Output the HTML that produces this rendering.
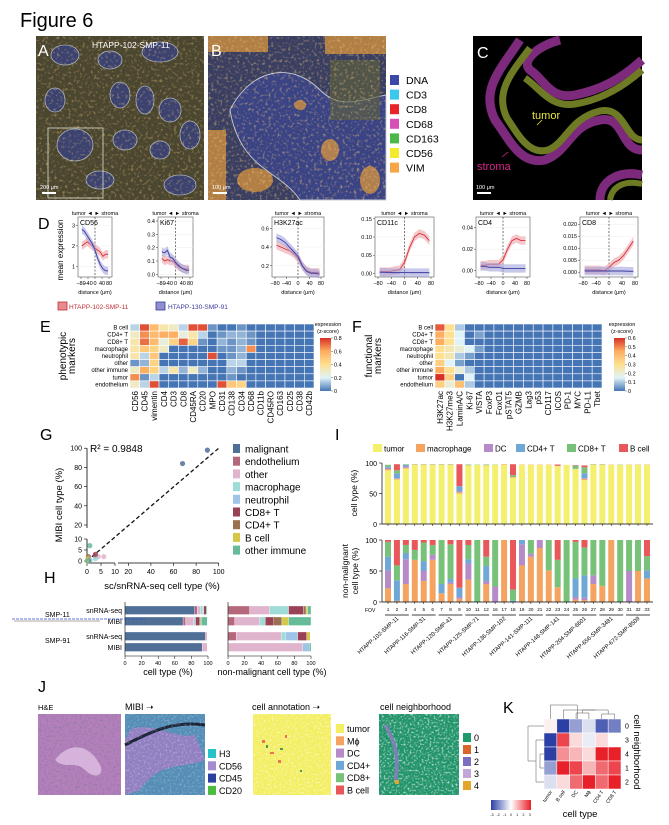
<!DOCTYPE html>
<html><head><meta charset="utf-8">
<style>
html,body{margin:0;padding:0;background:#fff;}
svg{display:block;font-family:"Liberation Sans",Arial,sans-serif;}
</style></head>
<body>
<svg id="fig" width="669" height="825" viewBox="0 0 669 825" xmlns="http://www.w3.org/2000/svg">
<defs>
<filter id="noiseA" x="0" y="0" width="100%" height="100%"><feTurbulence type="fractalNoise" baseFrequency="0.35" numOctaves="2" seed="3"/><feColorMatrix values="0 0 0 0 0.95  0 0 0 0 0.6  0 0 0 0 0.2  0 0 0 3 -1.6"/></filter>
<filter id="noiseW" x="0" y="0" width="100%" height="100%"><feTurbulence type="fractalNoise" baseFrequency="0.5" numOctaves="2" seed="7"/><feColorMatrix values="0 0 0 0 1  0 0 0 0 1  0 0 0 0 1  0 0 0 3 -1.5"/></filter>
<filter id="noiseD" x="0" y="0" width="100%" height="100%"><feTurbulence type="fractalNoise" baseFrequency="0.45" numOctaves="2" seed="11"/><feColorMatrix values="0 0 0 0 0.3  0 0 0 0 0.2  0 0 0 0 0.4  0 0 0 3 -1.4"/></filter>
<linearGradient id="cbE" x1="0" y1="1" x2="0" y2="0"><stop offset="0" stop-color="#4575b4"/><stop offset="0.25" stop-color="#e0f3f8"/><stop offset="0.5" stop-color="#fee090"/><stop offset="0.75" stop-color="#fdae61"/><stop offset="1" stop-color="#d73027"/></linearGradient>
<linearGradient id="cbK" x1="0" y1="0" x2="1" y2="0"><stop offset="0" stop-color="#2b3fa5"/><stop offset="0.5" stop-color="#ffffff"/><stop offset="1" stop-color="#e8202a"/></linearGradient>
</defs>

<text x="20" y="27" font-size="20">Figure 6</text>

<!-- Panel A -->
<g>
<rect x="36" y="36" width="168" height="164" fill="#4a4630"/>
<g fill="#3b4270" stroke="#aab2bc" stroke-width="0.8">
<ellipse cx="65" cy="55" rx="14" ry="10"/><ellipse cx="110" cy="60" rx="12" ry="9"/><ellipse cx="160" cy="52" rx="18" ry="10"/>
<ellipse cx="120" cy="95" rx="10" ry="13"/><ellipse cx="145" cy="100" rx="9" ry="14"/><ellipse cx="170" cy="110" rx="11" ry="12"/>
<ellipse cx="75" cy="145" rx="18" ry="16"/><ellipse cx="190" cy="135" rx="10" ry="14"/><ellipse cx="160" cy="150" rx="10" ry="9"/>
<ellipse cx="125" cy="140" rx="12" ry="10"/><ellipse cx="100" cy="180" rx="14" ry="9"/><ellipse cx="180" cy="185" rx="16" ry="10"/><ellipse cx="55" cy="100" rx="10" ry="12"/>
</g>
<rect x="36" y="36" width="168" height="164" filter="url(#noiseA)" opacity="0.45"/>
<rect x="48" y="128" width="55" height="70" fill="none" stroke="#e0e0d0" stroke-width="0.8"/>
<text x="38" y="56" font-size="16" fill="#fff">A</text>
<text x="92" y="48" font-size="8.5" fill="#fff">HTAPP-102-SMP-11</text>
<rect x="42" y="192" width="14" height="2" fill="#fff"/><text x="40" y="189" font-size="5.5" fill="#fff">200 μm</text>
</g>

<!-- Panel B -->
<g>
<rect x="208" y="36" width="178" height="164" fill="#3a3f62"/>
<path d="M230 110 C250 70 290 60 320 90 C340 110 360 100 386 95 L386 200 L300 200 C280 170 240 170 230 110Z" fill="#3a4384" stroke="#c6ccd6" stroke-width="0.9"/>
<g fill="#d9953c" opacity="0.75"><rect x="208" y="36" width="60" height="16"/><rect x="208" y="130" width="18" height="70"/><rect x="325" y="36" width="61" height="18"/><ellipse cx="255" cy="180" rx="18" ry="12"/><ellipse cx="330" cy="150" rx="9" ry="11"/><ellipse cx="300" cy="105" rx="6" ry="5"/><ellipse cx="370" cy="180" rx="10" ry="14"/></g>
<rect x="330" y="60" width="50" height="60" fill="#5f6238" opacity="0.6"/>
<rect x="208" y="36" width="178" height="164" filter="url(#noiseA)" opacity="0.55"/>
<text x="211" y="56" font-size="16" fill="#fff">B</text>
<rect x="213" y="192" width="14" height="2" fill="#fff"/><text x="212" y="189" font-size="5.5" fill="#fff">100 μm</text>
</g>
<g id="legB"></g>

<!-- Panel C -->
<g>
<rect x="473" y="36" width="169" height="164" fill="#000"/>
<path d="M520 40 C500 70 480 90 495 120 C510 140 520 165 545 160 C570 150 570 125 600 120 C625 115 620 150 642 150 M642 60 C620 80 600 90 575 95 C550 100 545 80 530 70 C520 60 540 45 560 40" fill="none" stroke="#7d2a7c" stroke-width="9"/>
<path d="M530 48 C512 72 494 92 507 118 C520 138 530 155 548 150 C566 143 570 118 600 111 C625 106 625 140 642 140 M642 70 C622 88 600 100 575 104 C550 108 540 88 525 78" fill="none" stroke="#6f7a24" stroke-width="7"/>
<path d="M600 200 C600 180 620 170 642 175" fill="none" stroke="#7d2a7c" stroke-width="9"/>
<path d="M610 200 C612 186 625 180 642 184" fill="none" stroke="#6f7a24" stroke-width="6"/>
<text x="477" y="58" font-size="16" fill="#fff">C</text>
<text x="532" y="119" font-size="11" fill="#e8e63a">tumor</text>
<text x="477" y="170" font-size="11" fill="#d8288a">stroma</text>
<line x1="537" y1="125" x2="542" y2="120" stroke="#e8e63a" stroke-width="0.8"/>
<line x1="508" y1="152" x2="502" y2="157" stroke="#d8288a" stroke-width="0.8"/>
<rect x="477" y="192" width="14" height="2" fill="#fff"/><text x="476" y="189" font-size="5.5" fill="#fff">100 μm</text>
</g>

<text x="38" y="229" font-size="16">D</text>
<text transform="translate(63,250) rotate(-90)" text-anchor="middle" font-size="8">mean expression</text>
<g id="plotsD"></g>
<g>
<rect x="58" y="302" width="9" height="8" fill="#e78b8f" stroke="#c0303a" stroke-width="0.8"/>
<text x="69" y="309" font-size="6.5" fill="#c0303a">HTAPP-102-SMP-11</text>
<rect x="156" y="302" width="9" height="8" fill="#8f8fd0" stroke="#3a3a9a" stroke-width="0.8"/>
<text x="168" y="309" font-size="6.5" fill="#3a3a9a">HTAPP-130-SMP-91</text>
</g>

<text x="40" y="332" font-size="16">E</text>
<text x="352" y="332" font-size="16">F</text>
<g id="heatE"></g>
<g id="heatF"></g>

<text x="40" y="440" font-size="16">G</text>
<g id="scatG"></g>
<text x="44" y="583" font-size="16">H</text>
<g id="barsH"></g>
<text x="335" y="440" font-size="16">I</text>
<g id="barsI"></g>

<text x="38" y="692" font-size="16">J</text>
<g>
<text x="38" y="710" font-size="7.5">H&amp;E</text>
<rect x="38" y="714" width="83" height="81" fill="#b57fbc"/>
<rect x="38" y="714" width="83" height="81" filter="url(#noiseD)"/>
<path d="M55 760 C70 740 90 745 100 765 C105 775 95 780 85 770 C75 760 65 770 55 760Z" fill="#e0c0e4" opacity="0.8"/>
<text x="125" y="710" font-size="9">MIBI ➝</text>
<rect x="125" y="714" width="80" height="81" fill="#6a78b2"/>
<rect x="125" y="714" width="80" height="81" fill="#2bb5bd" opacity="0.35"/>
<path d="M130 730 C150 720 175 740 195 735 L205 760 C180 770 160 760 140 790 L125 795 L125 740Z" fill="#a07cc4" opacity="0.8"/>
<path d="M125 745 C145 735 170 720 205 725" fill="none" stroke="#1a2238" stroke-width="3"/>
<rect x="125" y="714" width="80" height="81" filter="url(#noiseW)" opacity="0.3"/>
<text x="252" y="710" font-size="9">cell annotation ➝</text>
<rect x="253" y="714" width="78" height="81" fill="#f3ee62"/>
<rect x="253" y="714" width="78" height="81" filter="url(#noiseW)" opacity="0.6"/>
<g fill="#e8745a"><rect x="262" y="740" width="3" height="3"/><rect x="270" y="752" width="4" height="2"/><rect x="285" y="735" width="2" height="3"/><rect x="278" y="760" width="3" height="3"/></g>
<g fill="#4d9a58"><rect x="266" y="745" width="2" height="3"/><rect x="280" y="748" width="3" height="2"/><rect x="300" y="770" width="2" height="2"/></g>
<text x="380" y="710" font-size="9">cell neighborhood</text>
<rect x="379" y="714" width="80" height="81" fill="#22946a"/>
<rect x="379" y="714" width="80" height="81" filter="url(#noiseW)" opacity="0.75"/>
<path d="M385 725 C395 740 400 760 395 780" fill="none" stroke="#8d7cc0" stroke-width="4" opacity="0.8"/>
<rect x="395" y="780" width="4" height="4" fill="#e2a72a"/>
</g>
<g id="legJ"></g>

<text x="503" y="713" font-size="16">K</text>
<g id="heatK"></g>
</svg>

<script>
var NS='http://www.w3.org/2000/svg';
function mk(tag,attrs,parent,txt){var e=document.createElementNS(NS,tag);for(var k in attrs)e.setAttribute(k,attrs[k]);if(txt!==undefined)e.textContent=txt;(parent||document.getElementById('fig')).appendChild(e);return e;}

/* ---------- data ---------- */
var chanNames=['DNA','CD3','CD8','CD68','CD163','CD56','VIM'];
var chanColors=['#3a48a8','#3cc8ec','#e8232a','#d651b3','#4cb848','#f2ea2a','#f5a745'];

var dDist=[-75,-60,-45,-30,-15,0,15,30,45,60,75];
var dTitles=['CD56','Ki67','H3K27ac','CD11c','CD4','CD8'];
var dRedCD56=[2.0,2.1,2.2,2.1,2.0,1.9,1.8,1.7,1.5,1.6,1.6];
var dBlueCD56=[2.8,2.7,2.5,2.3,2.1,1.8,1.4,1.1,0.9,0.8,0.8];
var dRedKi67=[0.12,0.10,0.11,0.10,0.10,0.08,0.06,0.05,0.04,0.04,0.04];
var dBlueKi67=[0.17,0.16,0.18,0.13,0.12,0.09,0.07,0.05,0.04,0.03,0.03];
var dRedH3=[0.42,0.40,0.38,0.36,0.33,0.28,0.20,0.15,0.13,0.13,0.13];
var dBlueH3=[0.50,0.48,0.45,0.40,0.35,0.30,0.20,0.14,0.12,0.12,0.11];
var dRedCD11c=[0.005,0.005,0.005,0.008,0.01,0.03,0.07,0.10,0.11,0.105,0.09];
var dBlueCD11c=[0.003,0.003,0.002,0.002,0.002,0.003,0.002,0.002,0.002,0.002,0.002];
var dRedCD4=[0.005,0.005,0.006,0.006,0.006,0.01,0.02,0.028,0.03,0.028,0.028];
var dBlueCD4=[0.004,0.004,0.003,0.003,0.003,0.002,0.002,0.002,0.002,0.002,0.002];
var dRedCD8=[0.001,0.001,0.001,0.001,0.0005,0.002,0.004,0.005,0.007,0.010,0.013];
var dBlueCD8=[0.0005,0.0005,0.0005,0.0005,0.0005,0.0005,0.0005,0.0005,0.0005,0.0004,0.0004];
var dTicksCD56=[1,2,3], dTickLabCD56=['1','2','3'];
var dTicksKi67=[0,0.1,0.2,0.3,0.4], dTickLabKi67=['0.0','0.1','0.2','0.3','0.4'];
var dTicksH3=[0.2,0.4,0.6], dTickLabH3=['0.2','0.4','0.6'];
var dTicksCD11c=[0,0.05,0.10,0.15], dTickLabCD11c=['0.00','0.05','0.10','0.15'];
var dTicksCD4=[0,0.02,0.04], dTickLabCD4=['0.00','0.02','0.04'];
var dTicksCD8=[0,0.005,0.01,0.015,0.02], dTickLabCD8=['0.000','0.005','0.010','0.015','0.020'];
var xTicksD=[-80,-40,0,40,80], xTickLabD=['−80','−40','0','40','80'];

var eRows=['B cell','CD4+ T','CD8+ T','macrophage','neutrophil','other','other immune','tumor','endothelium'];
var eCols=['CD56','CD45','vimentin','CD4','CD3','CD8','CD45RA','CD20','MPO','CD31','CD138','CD34','CD68','CD11b','CD45RO','CD163','CD25','CD38','CD42b'];
var eVals=[
[.15,.75,.55,.35,.3,.15,.75,.75,.05,0,0,.05,0,0,0,0,0,0,0],
[.3,.65,.55,.6,.6,.25,.35,.15,0,.05,.1,.1,.05,0,0,0,0,0,0],
[.35,.7,.55,.25,.45,.72,.45,.05,0,.1,.05,.1,.05,0,0,0,0,0,0],
[.35,.5,.45,.3,0,0,0,0,0,.05,.05,.1,.65,0,0,0,0,0,0],
[.35,.15,.5,0,0,0,0,0,.75,0,.05,.1,0,0,0,0,0,0,0],
[.05,.1,.45,0,0,0,0,0,0,0,.15,.15,0,0,0,0,0,0,0],
[.3,.6,.45,.15,.35,.1,.3,.1,0,0,.1,.05,0,0,0,0,0,0,0],
[.65,.05,.15,0,0,0,0,0,0,0,.05,0,0,0,0,0,0,0,0],
[.3,.15,.75,0,0,0,0,0,0,.75,.5,.45,0,0,0,0,0,0,0]];
var eTicks=['0','0.2','0.4','0.6','0.8'];
var fCols=['H3K27ac','H3K27me3','LaminA/C','Ki-67','VISTA','FoxP3','FoxO1','pSTAT5','GZMB','Lag3','p53','CD117','ICOS','PD-1','MYC','PD-L1','Tbet'];
var fVals=[
[.55,.3,.1,0,0,0,0,0,0,0,0,0,0,0,0,0,0],
[.45,.3,.15,0,.05,0,0,0,0,0,0,0,0,0,0,0,0],
[.45,.3,.15,0,0,0,0,0,0,0,0,0,0,0,0,0,0],
[.3,.25,.2,.15,.05,0,0,0,0,0,0,0,0,0,0,0,0],
[.3,.25,.1,.05,0,0,0,0,0,0,0,0,0,0,0,0,0],
[.35,.15,.05,0,0,0,0,0,0,0,0,0,0,0,0,0,0],
[.45,.3,.2,.1,0,0,0,0,0,0,0,0,0,0,0,0,0],
[.6,.35,0,.15,0,0,0,0,0,0,0,0,0,0,0,0,0],
[.35,.2,.4,.1,0,0,0,0,0,0,0,0,0,0,0,0,0]];
var fTicks=['0','0.1','0.2','0.3','0.4','0.5','0.6'];

var gTypes=['malignant','endothelium','other','macrophage','neutrophil','CD8+ T','CD4+ T','B cell','other immune'];
var gColors=['#4f6f96','#b5677b','#e0b4cc','#9fdcd8','#9ec5e8','#9a4255','#9a7050','#d4c84a','#66bb98'];
var gSc11=[68,3,4,3,1,3,0.5,0.3,1];
var gMibi11=[84,2,2,1,0.5,3,2,1,7];
var gSc91=[90,0.5,6,1,1,0.5,0.2,0.1,0.2];
var gMibi91=[98,0.3,2,0.2,0.3,0.1,0.1,0.1,0.1];
var gYTicks=[0,5,10,20,40,60,80,100];
var gXTicks=[0,5,10,20,40,60,80,100];

var hRowLabels=['snRNA-seq','MIBI','snRNA-seq','MIBI'];
var hAll=[[84,3,4,3,1,3,0,0,1],[70,3,10,2,0,5,1,1,7],[97,0,2,0,0,0,0,0,0],[93,0,6,0,0,0,0,0,0]];
var hNonMal=[[26,24,23,0,18,3,2,4],[8,30,7,0,10,10,8,27],[10,54,5,15,11,0,4,0],[1,89,0,8,0,0,0,2]];
var hTicks=[0,20,40,60,80,100];

var iCats=['tumor','macrophage','DC','CD4+ T','CD8+ T','B cell'];
var iColors=['#f5ef6e','#f4a460','#b68cc8','#6fa8d6','#77c278','#e8585a'];
var iFov=['1','2','3','4','5','6','7','8','9','10','11','12','16','17','18','19','20','21','22','23','24','25','26','27','28','29','30','31','32','33'];
var iTumor=[88,73,91,97,97,97,97,97,50,96,97,96,97,97,76,97,97,97,97,95,97,90,72,97,97,97,97,97,97,97];
var iMac=[2,1,1,0.5,0.5,0.5,0.5,0.5,2,0.5,0,0.5,0,1,1,0.5,0.5,0.5,0.5,0.5,0,0.5,2,0.5,0.5,0.5,0,0.5,0.5,0.5];
var iDC=[2,1,3,0,0,0,0,0,2,0,0,0,0,0,0,0,0,0,0,0,0,0,1,0,0,0,0,0,0,0];
var iCD4=[2,8,2,0,0,0,0,0,8,0,0,0,0,0,0,0,0,0,0,0,0,0,8,0,0,0,0,0,0,0];
var iCD8=[3,5,1,0.5,0.5,0.5,0.5,0.5,0,1,0.5,1,0.5,0,3,0,0,0,0,0,0,5,10,0.5,0.5,0,0.5,0,0,0];
var iB=[0,10,0,0,0,0,0,0,36,0,0,0,0,0,18,0,0,0,0,2,0,1,3,0,0,0,0,0,0,0];
var nMac=[22,2,29,68,34,68,14,29,5,36,0,29,0,100,0,59,73,87,51,24,0,4,3,29,26,100,0,0,50,38];
var nDC=[29,0,40,0,16,8,0,3,3,26,0,5,25,0,0,34,5,13,0,0,0,4,4,14,0,0,0,50,0,0];
var nCD4=[22,33,10,0,16,0,15,5,15,7,0,24,0,0,2,7,0,0,0,0,0,30,36,0,0,0,0,0,0,13];
var nCD8=[24,24,13,16,30,16,71,56,0,23,100,15,75,0,18,0,22,0,49,44,100,59,45,57,74,0,100,50,50,23];
var nB=[3,41,8,16,4,8,0,7,77,8,0,27,0,0,80,0,0,0,0,32,0,3,12,0,0,0,0,0,0,26];
var iGroups=['HTAPP-102-SMP-11','HTAPP-116-SMP-31','HTAPP-120-SMP-41','HTAPP-125-SMP-71','HTAPP-136-SMP-102','HTAPP-141-SMP-111','HTAPP-148-SMP-141','HTAPP-204-SMP-6601','HTAPP-656-SMP-3481','HTAPP-672-SMP-8509'];

var jChan=['H3','CD56','CD45','CD20'], jChanCol=['#27c2c8','#a58bd0','#2b3fa0','#4cba3c'];
var jAnn=['tumor','Mϕ','DC','CD4+','CD8+','B cell'], jAnnCol=['#f3ee62','#f4a460','#b68cc8','#6fa8d6','#77c278','#e8585a'];
var jNb=['0','1','2','3','4'], jNbCol=['#1f9a6c','#d9652a','#7a70bf','#c2a6d8','#e2a72a'];

var kRows=['0','3','4','1','2'];
var kCols=['tumor','B cell','DC','Mϕ','CD4 T','CD8 T'];
var kVals=[[0.2,-3,-1.5,-0.5,-2.5,-2],[-3,2.5,0.5,-0.3,0.5,0],[-3,1.5,1,0.5,3,3],[-1.5,3,2.5,1,2,2.5],[-0.5,0.5,2,3,2,3]];
var kTicks=['-3','-2','-1','0','1','2','3'];

/* ---------- helpers ---------- */
function hex(c){return [parseInt(c.substr(1,2),16),parseInt(c.substr(3,2),16),parseInt(c.substr(5,2),16)];}
function interp(stops,t){t=Math.max(0,Math.min(1,t));var n=stops.length-1,i=Math.min(n-1,Math.floor(t*n)),f=t*n-i;var a=hex(stops[i]),b=hex(stops[i+1]);return 'rgb('+a.map(function(v,k){return Math.round(v+(b[k]-v)*f);}).join(',')+')';}
var eStops=['#4575b4','#e0f3f8','#fee090','#fdae61','#d73027'];
var kStops=['#2b3fa5','#ffffff','#e8202a'];

/* ---------- B legend ---------- */
var gB=document.getElementById('legB');
chanNames.forEach(function(n,i){
 var y=75+i*14.6;
 var r=mk('rect',{x:390,y:y,width:9,height:10,fill:chanColors[i]},gB);
 
 
 var t=mk('text',{x:406,y:y+9,'font-size':10.5},gB,n);
 
 
});

/* ---------- D plots ---------- */
var gD=document.getElementById('plotsD');
var dSpecs=[
 {x0:78,x1:112,ymin:0.5,ymax:3.4,ticks:dTicksCD56,lab:dTickLabCD56,r:dRedCD56,b:dBlueCD56},
 {x0:158,x1:193,ymin:-0.02,ymax:0.43,ticks:dTicksKi67,lab:dTickLabKi67,r:dRedKi67,b:dBlueKi67},
 {x0:272,x1:324,ymin:0.08,ymax:0.72,ticks:dTicksH3,lab:dTickLabH3,r:dRedH3,b:dBlueH3},
 {x0:375,x1:434,ymin:-0.01,ymax:0.155,ticks:dTicksCD11c,lab:dTickLabCD11c,r:dRedCD11c,b:dBlueCD11c},
 {x0:476,x1:530,ymin:-0.006,ymax:0.05,ticks:dTicksCD4,lab:dTickLabCD4,r:dRedCD4,b:dBlueCD4},
 {x0:580,x1:638,ymin:-0.002,ymax:0.023,ticks:dTicksCD8,lab:dTickLabCD8,r:dRedCD8,b:dBlueCD8}];
var Y0=217,Y1=277;
dSpecs.forEach(function(s,pi){
 var g=mk('g',{},gD);
 
 
 var xs=function(v){return s.x0+3+(v+80)/160*(s.x1-s.x0-6);};
 var ys=function(v){return Y1-(v-s.ymin)/(s.ymax-s.ymin)*(Y1-Y0);};
 var bg=mk('rect',{x:s.x0,y:Y0,width:s.x1-s.x0,height:Y1-Y0,fill:'#fff',stroke:'#555','stroke-width':0.6},g);
 
 
 s.ticks.forEach(function(t,i){
  mk('line',{x1:s.x0,x2:s.x1,y1:ys(t),y2:ys(t),stroke:'#eee','stroke-width':0.5},g);
  mk('line',{x1:s.x0-2,x2:s.x0,y1:ys(t),y2:ys(t),stroke:'#333','stroke-width':0.5},g);
  var tl=mk('text',{x:s.x0-3,y:ys(t)+2,'font-size':5.5,'text-anchor':'end'},g,s.lab[i]);
  
  
 });
 xTicksD.forEach(function(t,i){
  mk('line',{x1:xs(t),x2:xs(t),y1:Y1,y2:Y1+2,stroke:'#333','stroke-width':0.5},g);
  var xl=mk('text',{x:xs(t),y:Y1+8,'font-size':5.5,'text-anchor':'middle'},g,xTickLabD[i]);
  
  
 });
 mk('line',{x1:xs(0),x2:xs(0),y1:Y0,y2:Y1,stroke:'#222','stroke-width':0.6,'stroke-dasharray':'2,1.5'},g);
 var band=(s.ymax-s.ymin)*0.07;
 [[s.r,'#d8303c','#eda3a8'],[s.b,'#3a3aa0','#a3a3dc']].forEach(function(ser,si){
  var up=ser[0].map(function(v,i){return xs(dDist[i])+','+ys(v+band);});
  var dn=ser[0].map(function(v,i){return xs(dDist[i])+','+ys(v-band);}).reverse();
  var p=mk('polygon',{points:up.concat(dn).join(' '),fill:ser[2],opacity:0.6},g);
  
  
  var l=mk('polyline',{points:ser[0].map(function(v,i){return xs(dDist[i])+','+ys(v);}).join(' '),fill:'none',stroke:ser[1],'stroke-width':0.9},g);
  
  
 });
 var tt=mk('text',{x:s.x0+2,y:Y0+8,'font-size':7},g,dTitles[pi]);
 
 
 var cx=xs(0);
 var hd=mk('text',{x:cx,y:Y0-2,'font-size':5.5,'text-anchor':'middle'},g,'tumor ◄ ► stroma');
 
 
 var xt=mk('text',{x:(s.x0+s.x1)/2,y:Y1+17,'font-size':5.5,'text-anchor':'middle'},g,'distance (μm)');
 
 
});

/* ---------- heatmaps E/F ---------- */
function heat(gid,vals,cols,x0,x1,y0,y1,vmax,labX,cbx,ticks,sideTitle,sideX){
 var g=document.getElementById(gid);
 var cw=(x1-x0)/cols.length,rh=(y1-y0)/eRows.length;
 vals.forEach(function(row,r){row.forEach(function(v,c){
  var cell=mk('rect',{x:x0+c*cw,y:y0+r*rh,width:cw,height:rh,fill:interp(eStops,v/vmax),stroke:'#fff','stroke-width':0.6},g);
  
  
 });});
 eRows.forEach(function(n,r){
  var t=mk('text',{x:labX,y:y0+r*rh+rh/2+2,'font-size':6,'text-anchor':'end'},g,n);
  
  
 });
 cols.forEach(function(n,c){
  var xx=x0+c*cw+cw/2+3;
  var t=mk('text',{transform:'translate('+xx+','+(y1+3)+') rotate(-90)','font-size':8,'text-anchor':'end'},g,n);
  
  
 });
 var cb=mk('rect',{x:cbx,y:338,width:11,height:53,fill:'url(#cbE)'},g);
 
 
 ticks.forEach(function(t,i){
  var yy=391-i*53/(ticks.length-1);
  mk('line',{x1:cbx+11,x2:cbx+13,y1:yy,y2:yy,stroke:'#333','stroke-width':0.4},g);
  var tl=mk('text',{x:cbx+14,y:yy+2,'font-size':5.5},g,t);
  
  
 });
 var ct=mk('text',{x:cbx+8,y:326,'font-size':5.5,'text-anchor':'middle'},g,'expression');
 
 
 mk('text',{x:cbx+8,y:333,'font-size':5.5,'text-anchor':'middle'},g,'(z-score)');
 var st=mk('text',{transform:'translate('+sideX+',356) rotate(-90)','font-size':10,'text-anchor':'middle'},g,sideTitle.split('|')[0]);
 
 
 mk('text',{transform:'translate('+(sideX+9)+',356) rotate(-90)','font-size':10,'text-anchor':'middle'},g,sideTitle.split('|')[1]);
}
heat('heatE',eVals,eCols,130,314,324,388,0.8,128,320,eTicks,'phenotypic|markers',66);
heat('heatF',fVals,fCols,435,602,324,388,0.6,433,614,fTicks,'functional|markers',372);

/* ---------- G scatter ---------- */
var gG=document.getElementById('scatG');
function gx(v){return v<=10?87+2.8*v:117+(v-10)*1.13;}
function gy(v){return v<=10?561-2.2*v:525-(v-20)*0.96;}
mk('line',{x1:87,x2:87,y1:gy(100),y2:gy(20)+3,stroke:'#000','stroke-width':0.8},gG);
mk('line',{x1:87,x2:87,y1:gy(10),y2:561,stroke:'#000','stroke-width':0.8},gG);
mk('line',{x1:87,x2:gx(10),y1:563,y2:563,stroke:'#000','stroke-width':0.8},gG);
mk('line',{x1:gx(10)+3,x2:gx(100),y1:563,y2:563,stroke:'#000','stroke-width':0.8},gG);
gYTicks.forEach(function(t){
 mk('line',{x1:84,x2:87,y1:gy(t),y2:gy(t),stroke:'#000','stroke-width':0.6},gG);
 var l=mk('text',{x:82,y:gy(t)+2.5,'font-size':7,'text-anchor':'end'},gG,String(t));
 
 
});
gXTicks.forEach(function(t){
 mk('line',{x1:gx(t),x2:gx(t),y1:563,y2:566,stroke:'#000','stroke-width':0.6},gG);
 var l=mk('text',{x:gx(t),y:574,'font-size':7,'text-anchor':'middle'},gG,String(t));
 
 
});
var dl=mk('line',{x1:gx(0),y1:gy(0),x2:gx(100),y2:gy(100),stroke:'#111','stroke-width':1.3,'stroke-dasharray':'4,2.5'},gG);


[[gSc11,gMibi11],[gSc91,gMibi91]].forEach(function(pair){
 pair[0].forEach(function(v,i){
  var c=mk('circle',{cx:gx(v),cy:gy(pair[1][i]),r:2.6,fill:gColors[i],opacity:0.85},gG);
  
  
 });
});
var r2=mk('text',{x:90,y:452,'font-size':10},gG,'R² = 0.9848');


var ya=mk('text',{transform:'translate(62,505) rotate(-90)','font-size':9.5,'text-anchor':'middle'},gG,'MIBI cell type (%)');


var xa=mk('text',{x:162,y:589,'font-size':9.5,'text-anchor':'middle'},gG,'sc/snRNA-seq cell type (%)');


gTypes.forEach(function(n,i){
 var y=444+i*12.7;
 var s=mk('rect',{x:233,y:y,width:7,height:9,fill:gColors[i]},gG);
 
 
 var t=mk('text',{x:245,y:y+8.5,'font-size':10},gG,n);
 
 
});

/* ---------- H bars ---------- */
var gH=document.getElementById('barsH');
var hY=[606,617,632,643];
function hbar(vals,cols,x0,x1){
 vals.forEach(function(row,r){var acc=0;row.forEach(function(v,c){
  var b=mk('rect',{x:x0+acc/100*(x1-x0),y:hY[r],width:v/100*(x1-x0),height:8.5,fill:cols[c],stroke:'#fff','stroke-width':0.3},gH);
  
  
  acc+=v;});});
 mk('line',{x1:x0,x2:x1,y1:656,y2:656,stroke:'#000','stroke-width':0.6},gH);
 mk('line',{x1:x0,x2:x0,y1:602,y2:656,stroke:'#000','stroke-width':0.6},gH);
 hTicks.forEach(function(t){
  var xx=x0+t/100*(x1-x0);
  mk('line',{x1:xx,x2:xx,y1:656,y2:659,stroke:'#000','stroke-width':0.5},gH);
  var l=mk('text',{x:xx,y:665,'font-size':5.5,'text-anchor':'middle'},gH,String(t));
  
  
 });
}
hbar(hAll,gColors,125,208);
hbar(hNonMal,gColors.slice(1),228,311);
hRowLabels.forEach(function(n,i){
 var t=mk('text',{x:122,y:hY[i]+7,'font-size':7,'text-anchor':'end'},gH,n);
 
 
});
var s11=mk('text',{x:45,y:617,'font-size':7},gH,'SMP-11');


mk('line',{x1:12,x2:145,y1:619,y2:619,stroke:'#3050c0','stroke-width':0.8,'stroke-dasharray':'3,1'},gH);
mk('line',{x1:14,x2:100,y1:621,y2:621,stroke:'#555','stroke-width':0.6},gH);
var s91=mk('text',{x:45,y:643,'font-size':7},gH,'SMP-91');


var h1=mk('text',{x:168,y:675,'font-size':9,'text-anchor':'middle'},gH,'cell type (%)');


var h2=mk('text',{x:272,y:675,'font-size':9,'text-anchor':'middle'},gH,'non-malignant cell type (%)');



/* ---------- I stacked bars ---------- */
var gI=document.getElementById('barsI');
iCats.forEach(function(n,i){
 var xs=[373,416,484,516,567,619][i];
 var s=mk('rect',{x:xs,y:444,width:9,height:8,fill:iColors[i]},gI);
 
 
 var t=mk('text',{x:xs+11,y:451.5,'font-size':8},gI,n);
 
 
});
function ix(i){return 388+i*8.93;}
function stackI(series,cols,yTop,yBot){
 var sc=function(v){return (yBot-yTop)*v/100;};
 iFov.forEach(function(f,i){var acc=0;
  series.forEach(function(ser,k){var v=ser[i];if(v<=0)return;
   var b=mk('rect',{x:ix(i)-3,y:yBot-sc(acc+v),width:6,height:sc(v),fill:cols[k]},gI);
   
   
   acc+=v;});
 });
 mk('line',{x1:382,x2:382,y1:yTop,y2:yBot,stroke:'#000','stroke-width':0.7},gI);
 mk('line',{x1:382,x2:653,y1:yBot,y2:yBot,stroke:'#000','stroke-width':0.7},gI);
 [0,50,100].forEach(function(t){
  var yy=yBot-sc(t);
  mk('line',{x1:379,x2:382,y1:yy,y2:yy,stroke:'#000','stroke-width':0.6},gI);
  var l=mk('text',{x:377,y:yy+3,'font-size':7,'text-anchor':'end'},gI,String(t));
  
  
 });
 iFov.forEach(function(f,i){mk('line',{x1:ix(i),x2:ix(i),y1:yBot,y2:yBot+2,stroke:'#000','stroke-width':0.5},gI);});
}
stackI([iTumor,iMac,iDC,iCD4,iCD8,iB],iColors,463,524);
stackI([nMac,nDC,nCD4,nCD8,nB],iColors.slice(1),540,602);
var it1=mk('text',{transform:'translate(357,493) rotate(-90)','font-size':8.5,'text-anchor':'middle'},gI,'cell type (%)');


var it2=mk('text',{transform:'translate(348,571) rotate(-90)','font-size':8.5,'text-anchor':'middle'},gI,'non-malignant');


mk('text',{transform:'translate(358,571) rotate(-90)','font-size':8.5,'text-anchor':'middle'},gI,'cell type (%)');
var fl=mk('text',{x:365,y:612,'font-size':5},gI,'FOV');


iFov.forEach(function(f,i){
 var t=mk('text',{x:ix(i),y:611,'font-size':4.6,'text-anchor':'middle'},gI,f);
 
 
});
iGroups.forEach(function(n,k){
 var a=ix(k*3)-3,b=ix(k*3+2)+3;
 mk('line',{x1:a,x2:b,y1:615,y2:615,stroke:'#000','stroke-width':0.8},gI);
 var t=mk('text',{transform:'translate('+((a+b)/2+2)+',619) rotate(-42)','font-size':5.8,'text-anchor':'end'},gI,n);
 
 
});

/* ---------- J legends ---------- */
var gJ=document.getElementById('legJ');
function leg(names,cols,x,y0,step,fs){
 names.forEach(function(n,i){
  var y=y0+i*step;
  var s=mk('rect',{x:x,y:y,width:8,height:9,fill:cols[i]},gJ);
  
  
  var t=mk('text',{x:x+11,y:y+8,'font-size':fs},gJ,n);
  
  
 });
}
leg(jChan,jChanCol,208,749,12.3,9);
leg(jAnn,jAnnCol,336,724,12.3,9);
leg(jNb,jNbCol,463,733,12,9);

/* ---------- K heatmap ---------- */
var gK=document.getElementById('heatK');
var kx0=544,kx1=621,ky0=719,ky1=789;
var kcw=(kx1-kx0)/kCols.length,krh=(ky1-ky0)/kRows.length;
kVals.forEach(function(row,r){row.forEach(function(v,c){
 var cell=mk('rect',{x:kx0+c*kcw,y:ky0+r*krh,width:kcw,height:krh,fill:interp(kStops,(v+3)/6),stroke:'#fff','stroke-width':0.5},gK);
 
 
});});
kRows.forEach(function(n,r){
 var t=mk('text',{x:625,y:ky0+r*krh+krh/2+2.5,'font-size':7},gK,n);
 
 
});
kCols.forEach(function(n,c){
 var t=mk('text',{transform:'translate('+(kx0+c*kcw+kcw/2+2)+','+(ky1+3)+') rotate(-55)','font-size':5,'text-anchor':'end'},gK,n);
 
 
});
var kt=mk('text',{x:580,y:817,'font-size':9.5,'text-anchor':'middle'},gK,'cell type');


var kn=mk('text',{transform:'translate(634,752) rotate(90)','font-size':9.5,'text-anchor':'middle'},gK,'cell neighborhood');


var dp='M'+(kx0+kcw/2)+' 719 V705 H'+(kx0+kcw*1.5+14)+' V719 M'+(kx0+kcw*1.5)+' 719 V710 H'+(kx0+kcw*4)+' M'+(kx0+kcw*2.5)+' 719 V713 H'+(kx0+kcw*3.5)+' V719 M'+(kx0+kcw*3)+' 713 V710 M'+(kx0+kcw*4.5)+' 719 V714 H'+(kx0+kcw*5.5)+' V719 M'+(kx0+kcw*5)+' 714 V710 H'+(kx0+kcw*3);
var den=mk('path',{d:dp,fill:'none',stroke:'#555','stroke-width':0.5},gK);


var lp='M544 '+(ky0+krh/2)+' H528 V'+(ky0+krh*3)+' H536 M536 '+(ky0+krh*1.5)+' V'+(ky0+krh*4.5)+' H544 M536 '+(ky0+krh*1.5)+' H544 M540 '+(ky0+krh*2.5)+' V'+(ky0+krh*3.5)+' M540 '+(ky0+krh*2.5)+' H544 M540 '+(ky0+krh*3.5)+' H544';
var lden=mk('path',{d:lp,fill:'none',stroke:'#555','stroke-width':0.5},gK);


var kcb=mk('rect',{x:491,y:800,width:40,height:10,fill:'url(#cbK)'},gK);


kTicks.forEach(function(t,i){
 var l=mk('text',{x:492+i*6.3,y:816,'font-size':3.5,'text-anchor':'middle'},gK,t);
 
 
});
</script>
</body></html>
